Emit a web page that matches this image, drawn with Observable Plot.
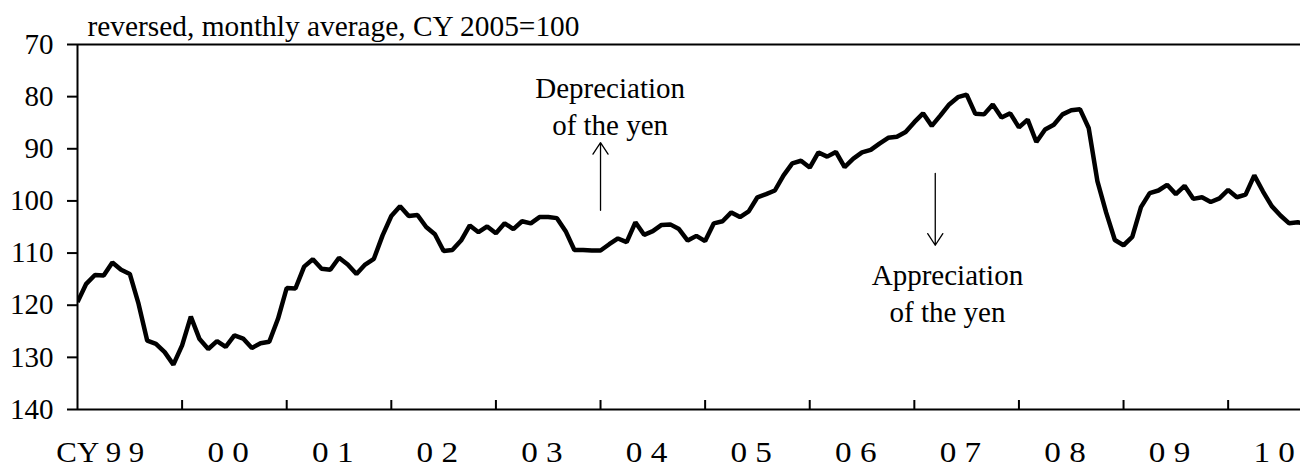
<!DOCTYPE html>
<html><head><meta charset="utf-8">
<script src="https://cdn.jsdelivr.net/npm/d3@7"></script>
<script src="https://cdn.jsdelivr.net/npm/@observablehq/plot@0.6"></script>
<style>html,body{margin:0;padding:0;background:#fff;}</style>
</head><body><div id="chart"></div>
<script>
// Nominal effective exchange rate of the yen, monthly average (CY2005=100), Jan 1999 onward
const subtitle = "reversed, monthly average, CY 2005=100";
const values = [
  119.4,115.9,114.2,114.3,111.8,113.2,114.0,119.7,126.8,127.4,129.0,131.4, // 1999
  127.7,122.2,126.5,128.4,126.9,128.0,125.8,126.4,128.2,127.3,127.0,122.6, // 2000
  116.7,116.8,112.6,111.2,113.0,113.2,110.9,112.2,114.0,112.2,111.1,106.6, // 2001
  102.9,101.0,102.9,102.7,105.0,106.4,109.6,109.4,107.6,104.7,106.0,104.9, // 2002
  106.2,104.3,105.4,103.9,104.3,103.1,103.1,103.3,105.8,109.4,109.4,109.5, // 2003
  109.5,108.3,107.2,107.9,104.1,106.5,105.8,104.6,104.5,105.4,107.6,106.7, // 2004
  107.7,104.3,103.9,102.2,103.1,102.0, 99.3, 98.7, 98.0, 95.1, 92.8, 92.3, // 2005
   93.6, 90.7, 91.5, 90.6, 93.5, 91.9, 90.7, 90.2, 89.0, 87.9, 87.7, 86.8, // 2006
   84.9, 83.2, 85.6, 83.6, 81.5, 80.1, 79.6, 83.3, 83.4, 81.5, 84.0, 83.2, // 2007
   85.9, 84.4, 88.7, 86.3, 85.4, 83.4, 82.6, 82.4, 86.0, 96.2,102.2,107.5, // 2008
  108.5,106.9,101.2, 98.5, 98.0, 96.9, 98.7, 97.1, 99.6, 99.3,100.2, 99.5, // 2009
   97.9, 99.3, 98.8, 95.1, 98.2,101.0,102.8,104.3,104.1,104.4              // 2010
];
const yearTicks = [12,24,36,48,60,72,84,96,108,120,132];
const yearLabels = ["CY 9 9","0 0","0 1","0 2","0 3","0 4","0 5","0 6","0 7","0 8","0 9","1 0"];
const yTicks = [70,80,90,100,110,120,130,140];
const annotations = [
  {text:"Depreciation\nof the yen", x:61.1, y:87.45},
  {text:"Appreciation\nof the yen", x:99.8, y:123.3}
];
const arrows = [
  {x:60.0, y1:101.8, y2:88.8},
  {x:98.4, y1:94.7, y2:108.5}
];

const data = values.map((v,i)=>({i, v}));
const labelData = yearLabels.map((t,k)=>({t, x:k*12+6}));

const plot = Plot.plot({
  width:1300, height:466,
  marginLeft:77, marginRight:0, marginTop:44, marginBottom:57,
  style:{fontFamily:"'Liberation Serif','Times New Roman',serif", fontSize:"29px", color:"#000", background:"#fff", overflow:"visible"},
  x:{domain:[0,140.3], axis:null},
  y:{domain:[70,140], reverse:true},
  marks:[
    Plot.ruleY([70,140], {stroke:"#000", strokeWidth:2}),
    Plot.ruleX([0], {stroke:"#000", strokeWidth:2}),
    Plot.ruleX(yearTicks, {stroke:"#000", strokeWidth:2, insetTop:356}),
    Plot.axisY(yTicks, {tickSize:10, tickPadding:14, strokeWidth:2, label:null, tickFormat:d=>String(d), fill:"#000"}),
    Plot.line(data, {x:"i", y:"v", stroke:"#000", strokeWidth:4.5, strokeLinejoin:"miter", strokeLinecap:"butt", clip:true}),
    Plot.text([subtitle], {text:d=>d, frameAnchor:"top-left", textAnchor:"start", lineAnchor:"bottom", dx:10, dy:-9, fill:"#000"}),
    Plot.text(labelData, {x:"x", text:"t", frameAnchor:"bottom", textAnchor:"end", lineAnchor:"middle", dx:14.5, dy:43, fill:"#000"}),
    Plot.text(annotations, {x:"x", y:"y", text:"text", textAnchor:"middle", lineAnchor:"bottom", lineHeight:1.276, fill:"#000"}),
    Plot.arrow(arrows, {x:"x", y1:"y1", y2:"y2", stroke:"#000", strokeWidth:1.3, headLength:16, headAngle:66})
  ]
});
document.getElementById("chart").appendChild(plot);
const labelSet = new Set(yearLabels);
d3.select(plot).selectAll("text").each(function(){
  const t = this.textContent;
  if (labelSet.has(t)) {
    this.setAttribute("textLength", t.startsWith("CY") ? 88 : 41.5);
    this.setAttribute("lengthAdjust", "spacingAndGlyphs");
  } else if (t === subtitle) {
    this.setAttribute("textLength", 492);
    this.setAttribute("lengthAdjust", "spacingAndGlyphs");
  }
});
</script>
</body></html>
